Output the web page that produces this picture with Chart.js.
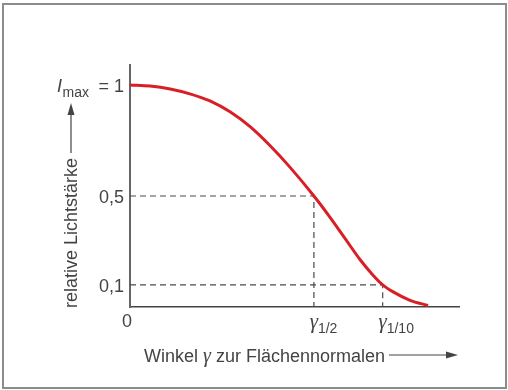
<!DOCTYPE html>
<html>
<head>
<meta charset="utf-8">
<script src="https://cdn.jsdelivr.net/npm/chart.js@4/dist/chart.umd.min.js"></script>
<style>
  html, body { margin: 0; padding: 0; background: #ffffff; }
  #wrap { width: 508px; height: 390px; position: relative; }
</style>
</head>
<body>
<div id="wrap"><canvas id="chart" width="508" height="390"></canvas></div>
<script>
// Emission angle (arbitrary units, axis runs 0..100) and relative luminous intensity
const gammaValues = [0, 6.1, 12.2, 18.2, 24.3, 30.4, 36.5, 42.6, 48.6, 55.9, 60.8, 65.4, 69.9, 73.6, 76.8, 80.0, 85.1, 90.6];
const intensityValues = [1.0, 0.995, 0.982, 0.960, 0.928, 0.879, 0.812, 0.726, 0.630, 0.5, 0.404, 0.308, 0.214, 0.148, 0.1, 0.068, 0.030, 0.007];

// Characteristic angles and the intensity levels they belong to
const gammaHalf = 55.9;
const gammaTenth = 76.8;
const levelHalf = 0.5;
const levelTenth = 0.1;

// Tick labels on the intensity axis
const yTickValues = [0.5, 0.1];
const yTickLabels = ['0,5', '0,1'];

const xMax = 100;
const yMax = 1.09;

const TEXT = '#444444';
const SANS = '"Liberation Sans", Arial, sans-serif';
const SERIF = '"Liberation Serif", "Times New Roman", serif';

const curve = gammaValues.map((g, i) => ({ x: g, y: intensityValues[i] }));
const halfGuide = [{ x: 0, y: levelHalf }, { x: gammaHalf, y: levelHalf }, { x: gammaHalf, y: 0 }];
const tenthGuide = [{ x: 0, y: levelTenth }, { x: gammaTenth, y: levelTenth }, { x: gammaTenth, y: 0 }];

function arrowHead(ctx, tipX, tipY, dir) {
  ctx.beginPath();
  if (dir === 'up') {
    ctx.moveTo(tipX, tipY);
    ctx.lineTo(tipX - 3.5, tipY + 12);
    ctx.lineTo(tipX + 3.5, tipY + 12);
  } else {
    ctx.moveTo(tipX, tipY);
    ctx.lineTo(tipX - 12, tipY - 3.5);
    ctx.lineTo(tipX - 12, tipY + 3.5);
  }
  ctx.closePath();
  ctx.fill();
}

const annotations = {
  id: 'annotations',
  afterDraw(chart) {
    const ctx = chart.ctx;
    const xs = chart.scales.x;
    const ys = chart.scales.y;
    const area = chart.chartArea;
    ctx.save();

    // outer frame
    ctx.strokeStyle = '#8c8c8c';
    ctx.lineWidth = 2;
    ctx.strokeRect(3, 4, 503, 384);

    ctx.fillStyle = TEXT;
    ctx.strokeStyle = TEXT;

    // intensity tick labels
    ctx.font = '18px ' + SANS;
    ctx.textAlign = 'right';
    ctx.textBaseline = 'alphabetic';
    yTickValues.forEach((v, i) => {
      ctx.fillText(yTickLabels[i], area.left - 6, ys.getPixelForValue(v) + 7);
    });

    // I_max = 1
    const yOne = ys.getPixelForValue(1) + 7;
    ctx.fillText('= 1', area.left - 6, yOne);
    ctx.font = '14px ' + SANS;
    ctx.fillText('max', area.left - 41, yOne + 5);
    ctx.font = 'italic 18px ' + SANS;
    ctx.fillText('I', area.left - 68, yOne);

    // origin label
    ctx.font = '18px ' + SANS;
    ctx.textAlign = 'center';
    ctx.fillText('0', area.left - 3, area.bottom + 20);

    // characteristic angle labels
    [[gammaHalf, '1/2'], [gammaTenth, '1/10']].forEach(([g, sub]) => {
      const px = xs.getPixelForValue(g) + 4;
      ctx.textAlign = 'right';
      ctx.font = 'italic 21px ' + SERIF;
      ctx.fillText('\u03b3', px, area.bottom + 21);
      ctx.textAlign = 'left';
      ctx.font = '14px ' + SANS;
      ctx.fillText(sub, px, area.bottom + 26);
    });

    // horizontal axis title with arrow
    const base = 362;
    let x = 144;
    ctx.textAlign = 'left';
    ctx.font = '18px ' + SANS;
    ctx.fillText('Winkel ', x, base);
    x += ctx.measureText('Winkel ').width;
    ctx.font = 'italic 20px ' + SERIF;
    ctx.fillText('\u03b3', x, base);
    x += ctx.measureText('\u03b3').width;
    ctx.font = '18px ' + SANS;
    ctx.fillText(' zur Fl\u00e4chennormalen', x, base);
    x += ctx.measureText(' zur Fl\u00e4chennormalen').width;
    ctx.lineWidth = 1.2;
    ctx.beginPath();
    ctx.moveTo(x + 4, 355);
    ctx.lineTo(450, 355);
    ctx.stroke();
    arrowHead(ctx, 458, 355, 'right');

    // vertical axis title with arrow
    ctx.save();
    ctx.translate(76.5, 308);
    ctx.rotate(-Math.PI / 2);
    ctx.textAlign = 'left';
    ctx.font = '18px ' + SANS;
    const label = 'relative Lichtst\u00e4rke';
    ctx.fillText(label, 0, 0);
    const w = ctx.measureText(label).width;
    ctx.restore();
    ctx.beginPath();
    ctx.moveTo(71, 308 - w - 5);
    ctx.lineTo(71, 110);
    ctx.stroke();
    arrowHead(ctx, 71, 103, 'up');

    ctx.restore();
  }
};

new Chart(document.getElementById('chart'), {
  type: 'scatter',
  data: {
    datasets: [
      {
        label: 'halfGuide',
        data: halfGuide,
        showLine: true,
        borderColor: '#4a4a4a',
        borderWidth: 1.2,
        borderDash: [6, 4],
        pointRadius: 0,
        tension: 0,
        order: 2
      },
      {
        label: 'tenthGuide',
        data: tenthGuide,
        showLine: true,
        borderColor: '#4a4a4a',
        borderWidth: 1.2,
        borderDash: [6, 4],
        pointRadius: 0,
        tension: 0,
        order: 2
      },
      {
        label: 'Lichtstärke',
        data: curve,
        showLine: true,
        borderColor: '#d81f26',
        borderWidth: 3,
        pointRadius: 0,
        cubicInterpolationMode: 'monotone',
        clip: false,
        order: 1
      }
    ]
  },
  options: {
    responsive: false,
    devicePixelRatio: 1,
    animation: false,
    events: [],
    layout: { padding: { left: 130, right: 49, top: 65, bottom: 83 } },
    plugins: { legend: { display: false }, tooltip: { enabled: false } },
    scales: {
      x: {
        type: 'linear', min: 0, max: xMax,
        ticks: { display: false },
        grid: { display: false, drawTicks: false },
        border: { display: true, color: '#444444', width: 1.5 }
      },
      y: {
        type: 'linear', min: 0, max: yMax,
        ticks: { display: false },
        grid: { display: false, drawTicks: false },
        border: { display: true, color: '#666666', width: 2 }
      }
    }
  },
  plugins: [annotations]
});
</script>
</body>
</html>
